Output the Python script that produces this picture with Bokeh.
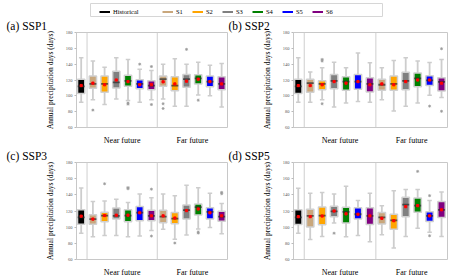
from bokeh.plotting import figure
from bokeh.models import (ColumnDataSource, Range1d, FixedTicker, Span, Whisker,
                          TeeHead, Legend, LegendItem)
from bokeh.layouts import column, row
from bokeh.embed import file_html
from bokeh.resources import INLINE

SERIES = ["Historical", "S1", "S2", "S3", "S4", "S5", "S6"]
COLORS = ["#000000", "#c9a77c", "#ffa500", "#808080", "#008000", "#0000ff", "#800080"]
PERIODS = ["Near future", "Far future"]
N_SCEN = 6
# box order: Historical, Near S1..S6, Far S1..S6
BOX_SERIES = [0] + list(range(1, 7)) + list(range(1, 7))
Y_TICKS = [60, 80, 100, 120, 140, 160, 180]
Y_LABEL = "Annual precipitation days (days)"
PANEL_TITLES = ["(a) SSP1", "(b) SSP2", "(c) SSP3", "(d) SSP5"]

# ---- (a) SSP1
SSP1_LO = [92, 95, 89, 96, 94, 92, 95, 96, 87, 87, 101, 100, 86]
SSP1_Q1 = [103, 109.5, 104.5, 110, 112, 109, 107.6, 112, 106.5, 111, 115, 111.5, 107.6]
SSP1_MED = [112, 115, 115, 117, 119, 115, 113, 121, 113, 121, 122, 118, 115]
SSP1_Q3 = [121, 125, 125, 131, 126, 120.4, 119, 125, 124, 127, 126.6, 125, 124]
SSP1_HI = [148, 144, 136, 148, 146, 133.5, 132, 140, 147, 140, 142.5, 138.6, 141]
SSP1_MEAN = [113, 116, 114, 120, 118, 114, 114, 117.7, 115, 118.5, 121, 118, 115]
SSP1_OUT_BOX = [1, 4, 4, 5, 6, 6, 7, 7, 9, 10]
SSP1_OUT_VAL = [82, 91, 89.5, 140, 137, 89, 90, 84, 158.7, 94.5]

# ---- (b) SSP2
SSP2_LO = [92, 92, 95, 86, 91, 93, 92, 95, 81, 87, 91, 100.6, 98]
SSP2_Q1 = [103, 104.5, 107.6, 109, 107, 108.4, 105, 107, 107, 107.6, 111.5, 113, 106]
SSP2_MED = [112, 116, 115, 119, 118, 118, 115, 114, 115, 119, 122, 119.6, 117.7]
SSP2_Q3 = [121, 121, 119, 127, 124, 127, 123, 121, 125, 129.7, 129, 125.4, 123]
SSP2_HI = [148, 130, 135.5, 142.5, 135.5, 154, 141.7, 135.5, 144.5, 148, 144, 142, 146]
SSP2_MEAN = [113, 113, 114, 118, 116, 118, 114, 115, 114, 118, 120, 120, 116]
SSP2_OUT_BOX = [2, 2, 2, 11, 12, 12]
SSP2_OUT_VAL = [146, 144, 90, 87, 159.5, 80.5]

# ---- (c) SSP3
SSP3_LO = [92.4, 88, 89.6, 89.6, 88, 89, 96, 97.4, 85, 90.4, 97.8, 99.7, 92]
SSP3_Q1 = [103.5, 103.5, 106.6, 110, 106.6, 108, 108, 105.5, 104.3, 110, 115, 110, 107.4]
SSP3_MED = [112, 110, 114.4, 114, 114.4, 118, 114, 113, 110.5, 121, 124.8, 119, 113]
SSP3_Q3 = [121.7, 115.5, 118.6, 123.6, 121.7, 125.6, 121, 121, 118, 127.5, 128.6, 124, 119.8]
SSP3_HI = [148.3, 131.7, 132.5, 134.4, 130.6, 141, 136.4, 141, 139, 152, 148.7, 142, 129.4]
SSP3_MEAN = [113.6, 110, 114.4, 114.8, 114.8, 117.8, 114, 114, 111.3, 120.5, 122.5, 117.8, 114]
SSP3_OUT_BOX = [2, 4, 4, 6, 6, 8, 10, 10, 12, 12]
SSP3_OUT_VAL = [153.7, 149, 147.5, 147, 89, 80.4, 94, 92.7, 143, 141.4]

# ---- (d) SSP5
SSP5_LO = [92.5, 84.8, 88.6, 105.3, 88, 89.8, 82, 90.6, 74.3, 88.6, 98.7, 93.7, 88.6]
SSP5_Q1 = [103.3, 100.3, 103, 113, 105.3, 110, 103.3, 104, 97.5, 113, 118.4, 107, 112]
SSP5_MED = [112, 114, 114.2, 119.6, 118.8, 116, 114, 112, 108.4, 128, 126.6, 114, 121.5]
SSP5_Q3 = [121.5, 122.3, 125, 126, 124.6, 124, 124, 118, 116, 137, 136, 119, 131.6]
SSP5_HI = [148, 142, 143, 141, 150.6, 133, 142, 126.6, 145, 146.7, 146.7, 133, 143.6]
SSP5_MEAN = [113, 113, 113.8, 120, 116.5, 116, 114, 111, 108, 125.4, 126.6, 114, 121.5]
SSP5_OUT_BOX = [3, 10, 11, 11]
SSP5_OUT_VAL = [92.5, 169, 139, 89.4]

SERIF = "Liberation Serif"
GRID_GRAY = "#cfcfcf"
WHISK_GRAY = "#cdcdcd"


def make_panel(title, lo, q1, med, q3, hi, mean, out_box, out_val,
               width, height, bl, br, bt, bb, title_shift):
    xs = [i + 0.5 for i in range(len(lo))]
    colors = [COLORS[s] for s in BOX_SERIES]
    src = ColumnDataSource(dict(x=xs, lo=lo, q1=q1, med=med, q3=q3, hi=hi,
                                mean=mean, color=colors))
    osrc = ColumnDataSource(dict(x=[b + 0.5 for b in out_box], y=out_val))
    p = figure(width=width, height=height, title=title,
               x_range=Range1d(0.1, len(lo)), y_range=Range1d(Y_TICKS[0], Y_TICKS[-1]),
               output_backend="svg", toolbar_location=None,
               min_border_left=bl, min_border_right=br,
               min_border_top=bt, min_border_bottom=bb)
    p.title.align = "left"
    p.title.offset = -bl + title_shift
    p.title.text_font = SERIF
    p.title.text_font_size = "11.5px"
    p.title.text_font_style = "normal"
    p.title.text_color = "#000000"
    p.title.standoff = 1

    w = Whisker(source=src, base="x", lower="lo", upper="hi",
                line_color=WHISK_GRAY, line_width=1.8, level="underlay",
                lower_head=TeeHead(size=4.5, line_color=WHISK_GRAY, line_width=1.5),
                upper_head=TeeHead(size=4.5, line_color=WHISK_GRAY, line_width=1.5))
    p.add_layout(w)

    p.vbar(x="x", width=0.62, bottom="q1", top="q3", fill_color="color",
           line_color="#d0d0d0", line_width=1.5, source=src)
    p.scatter(x="x", y="med", marker="dash", size=7, line_color="#2a2a2a",
              line_alpha=0.7, line_width=1.8, source=src)
    p.scatter(x="x", y="mean", marker="square", size=2.2, fill_color="#ff0000",
              line_color="#ff0000", source=src)
    p.scatter(x="x", y="y", marker="asterisk", size=3, line_color="#9a9a9a",
              line_width=0.8, source=osrc)

    # section separators: after Historical, after near-future scenarios
    for loc in [1, 1 + N_SCEN]:
        p.add_layout(Span(location=loc, dimension="height",
                          line_color=GRID_GRAY, line_width=1))

    centers = [1 + N_SCEN / 2, 1 + N_SCEN + N_SCEN / 2]
    p.xaxis.ticker = FixedTicker(ticks=centers)
    p.xaxis.major_label_overrides = {c: lab for c, lab in zip(centers, PERIODS)}
    p.xaxis.major_tick_line_color = None
    p.xaxis.minor_tick_line_color = None
    p.xaxis.axis_line_color = None
    p.xaxis.major_label_text_font = SERIF
    p.xaxis.major_label_text_font_size = "8px"
    p.xaxis.major_label_text_color = "#000000"
    p.xaxis.major_label_standoff = 2

    p.yaxis.ticker = FixedTicker(ticks=Y_TICKS)
    p.yaxis.major_tick_line_color = "#bbbbbb"
    p.yaxis.major_tick_out = 2
    p.yaxis.major_tick_in = 0
    p.yaxis.minor_tick_line_color = None
    p.yaxis.axis_line_color = None
    p.yaxis.major_label_text_font = SERIF
    p.yaxis.major_label_text_font_size = "4.5px"
    p.yaxis.major_label_text_color = "#555555"
    p.yaxis.major_label_standoff = 2
    p.yaxis.axis_label = Y_LABEL
    p.yaxis.axis_label_text_font = SERIF
    p.yaxis.axis_label_text_font_size = "7.5px"
    p.yaxis.axis_label_text_font_style = "normal"
    p.yaxis.axis_label_text_color = "#000000"
    p.yaxis.axis_label_standoff = 8

    p.grid.visible = False
    p.outline_line_color = "#c8c8c8"
    p.outline_line_width = 1
    p.background_fill_color = "#ffffff"
    p.border_fill_color = "#ffffff"
    return p


pa = make_panel(PANEL_TITLES[0], SSP1_LO, SSP1_Q1, SSP1_MED, SSP1_Q3, SSP1_HI, SSP1_MEAN,
                SSP1_OUT_BOX, SSP1_OUT_VAL, 228, 130, 76, 1, 13, 14, 6)
pb = make_panel(PANEL_TITLES[1], SSP2_LO, SSP2_Q1, SSP2_MED, SSP2_Q3, SSP2_HI, SSP2_MEAN,
                SSP2_OUT_BOX, SSP2_OUT_VAL, 237, 130, 65, 18, 13, 14, 0)
pc = make_panel(PANEL_TITLES[2], SSP3_LO, SSP3_Q1, SSP3_MED, SSP3_Q3, SSP3_HI, SSP3_MEAN,
                SSP3_OUT_BOX, SSP3_OUT_VAL, 228, 132, 76, 1, 14, 14, 6)
pd_ = make_panel(PANEL_TITLES[3], SSP5_LO, SSP5_Q1, SSP5_MED, SSP5_Q3, SSP5_HI, SSP5_MEAN,
                 SSP5_OUT_BOX, SSP5_OUT_VAL, 237, 132, 65, 18, 14, 14, 0)

# legend strip
lg = figure(width=465, height=17, x_range=Range1d(0, 1), y_range=Range1d(0, 1),
            x_axis_type=None, y_axis_type=None, output_backend="svg",
            toolbar_location=None, min_border_left=90, min_border_right=83,
            min_border_top=3, min_border_bottom=1)
lg.outline_line_color = "#d6d6d6"
lg.background_fill_color = "#ffffff"
lg.border_fill_color = "#ffffff"
NAN = float("nan")
rends = [lg.line(x=[NAN], y=[NAN], line_color=c, line_width=2) for c in COLORS]


def make_legend(items, loc):
    return Legend(items=items, location=loc, orientation="horizontal",
                  label_text_font=SERIF, label_text_font_size="6.5px",
                  label_text_color="#000000", glyph_width=11, glyph_height=9,
                  label_height=9, label_width=13, label_standoff=3, spacing=3,
                  padding=2, margin=0, border_line_color=None,
                  background_fill_alpha=0)


leg1 = make_legend([LegendItem(label=SERIES[0], renderers=[rends[0]])], (9, 0))
leg2 = make_legend([LegendItem(label=s, renderers=[r])
                    for s, r in zip(SERIES[1:], rends[1:])], (72, 0))
lg.add_layout(leg1)
lg.add_layout(leg2)

layout = column(lg, row(pa, pb), row(pc, pd_))

open("out.html", "w").write(file_html(layout, INLINE))
